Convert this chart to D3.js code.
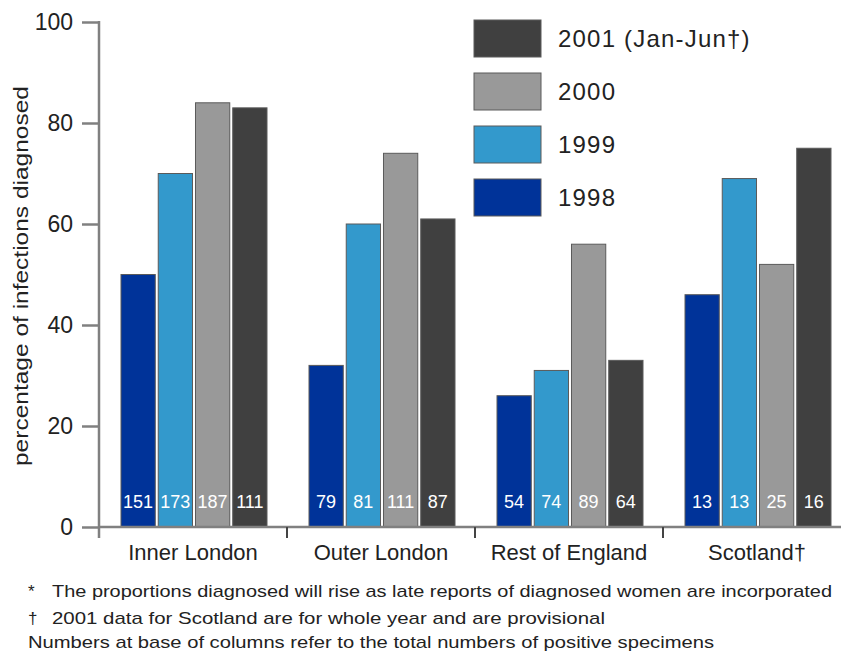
<!DOCTYPE html>
<html>
<head>
<meta charset="utf-8">
<script src="https://cdn.jsdelivr.net/npm/d3@7"></script>
<style>
  html, body { margin: 0; padding: 0; background: #fff; }
  svg { display: block; font-family: "Liberation Sans", Arial, Helvetica, sans-serif; }
</style>
</head>
<body>
<svg id="chart" width="841" height="653"></svg>
<script>
const categories = ["Inner London", "Outer London", "Rest of England", "Scotland\u2020"];
const seriesNames = ["1998", "1999", "2000", "2001"];
const legendLabels = ["2001 (Jan-Jun\u2020)", "2000", "1999", "1998"];
const values1998 = [50, 32, 26, 46];
const values1999 = [70, 60, 31, 69];
const values2000 = [84, 74, 56, 52];
const values2001 = [83, 61, 33, 75];
const counts1998 = [151, 79, 54, 13];
const counts1999 = [173, 81, 74, 13];
const counts2000 = [187, 111, 89, 25];
const counts2001 = [111, 87, 64, 16];
const yTicks = [0, 20, 40, 60, 80, 100];
const yTitle = "percentage of infections diagnosed";
const footnotes = [
  ["*", "The proportions diagnosed will rise as late reports of diagnosed women are incorporated"],
  ["\u2020", "2001 data for Scotland are for whole year and are provisional"],
  ["", "Numbers at base of columns refer to the total numbers of positive specimens"]
];

const colors = {"1998": "#003399", "1999": "#3399cc", "2000": "#999999", "2001": "#404040"};
const valuesBySeries = {"1998": values1998, "1999": values1999, "2000": values2000, "2001": values2001};
const countsBySeries = {"1998": counts1998, "1999": counts1999, "2000": counts2000, "2001": counts2001};

const svg = d3.select("#chart");
const axisColor = "#808080";

const y = d3.scaleLinear().domain([0, 100]).range([527, 22]);
const x0 = d3.scaleBand().domain(categories).range([99, 851]).paddingInner(0).paddingOuter(0);
const x1 = d3.scaleBand().domain(seriesNames).range([22, 168]).paddingInner(0.08);

// bars
const rows = categories.map((c, i) => ({cat: c, items: seriesNames.map(s => ({s, v: valuesBySeries[s][i], n: countsBySeries[s][i]}))}));
const g = svg.append("g").selectAll("g").data(rows).join("g")
  .attr("transform", d => `translate(${x0(d.cat)},0)`);
g.selectAll("rect").data(d => d.items).join("rect")
  .attr("x", d => x1(d.s))
  .attr("y", d => y(d.v))
  .attr("width", x1.bandwidth())
  .attr("height", d => y(0) - y(d.v))
  .attr("fill", d => colors[d.s])
  .attr("stroke", "#5a5a5a")
  .attr("stroke-width", 1);
g.selectAll("text").data(d => d.items).join("text")
  .attr("x", d => x1(d.s) + x1.bandwidth() / 2)
  .attr("y", 508)
  .attr("text-anchor", "middle")
  .attr("fill", "#fff")
  .attr("font-size", 18)
  .text(d => d.n);

// y axis
const yAxis = d3.axisLeft(y).tickValues(yTicks).tickSize(17).tickSizeOuter(0).tickPadding(9);
const ya = svg.append("g").attr("transform", "translate(99,0)").call(yAxis);
ya.select(".domain").remove();
ya.selectAll(".tick line").attr("stroke", axisColor).attr("stroke-width", 2.5);
ya.selectAll(".tick text").attr("font-size", 23).attr("fill", "#222").attr("font-family", "Liberation Sans, Arial, sans-serif");
svg.append("line").attr("x1", 99).attr("x2", 99).attr("y1", y(100) - 1).attr("y2", y(0) + 11)
  .attr("stroke", axisColor).attr("stroke-width", 2.5);

// x axis
svg.append("line").attr("x1", 99).attr("x2", 841).attr("y1", y(0)).attr("y2", y(0))
  .attr("stroke", axisColor).attr("stroke-width", 2.5);
svg.append("g").selectAll("line").data(categories.slice(1)).join("line")
  .attr("x1", d => x0(d)).attr("x2", d => x0(d))
  .attr("y1", y(0)).attr("y2", y(0) + 11)
  .attr("stroke", "#444").attr("stroke-width", 2);
const xAxis = d3.axisBottom(x0).tickSize(0).tickPadding(0);
const xa = svg.append("g").attr("transform", `translate(0,${y(0)})`).call(xAxis);
xa.select(".domain").remove();
xa.selectAll(".tick text").attr("font-size", 22).attr("fill", "#222")
  .attr("font-family", "Liberation Sans, Arial, sans-serif")
  .attr("dy", null).attr("y", 33);

// y title
svg.append("text")
  .attr("transform", "translate(28,276) rotate(-90)")
  .attr("text-anchor", "middle")
  .attr("font-size", 20)
  .attr("fill", "#222")
  .attr("textLength", 380)
  .attr("lengthAdjust", "spacingAndGlyphs")
  .text(yTitle);

// legend
const leg = svg.append("g").selectAll("g").data(legendLabels).join("g")
  .attr("transform", (d, i) => `translate(474,${20 + i * 53})`);
const legSeries = ["2001", "2000", "1999", "1998"];
leg.append("rect").attr("width", 67).attr("height", 37)
  .attr("fill", (d, i) => colors[legSeries[i]])
  .attr("stroke", "#5a5a5a").attr("stroke-width", 1);
leg.append("text").attr("x", 84).attr("y", 27)
  .attr("font-size", 24).attr("fill", "#222")
  .attr("letter-spacing", 1.2)
  .text(d => d);

// footnotes
const fnY = [597, 624, 648];
const fnLen = [780, 553, 686];
const fn = svg.append("g").selectAll("g").data(footnotes).join("g");
fn.append("text").attr("x", 28).attr("y", (d, i) => fnY[i])
  .attr("font-size", 17).attr("fill", "#222").text(d => d[0]);
fn.append("text")
  .attr("x", (d, i) => d[0] ? 52 : 28)
  .attr("y", (d, i) => fnY[i])
  .attr("font-size", 17).attr("fill", "#222")
  .attr("textLength", (d, i) => fnLen[i])
  .attr("lengthAdjust", "spacingAndGlyphs")
  .text(d => d[1]);
</script>
</body>
</html>
